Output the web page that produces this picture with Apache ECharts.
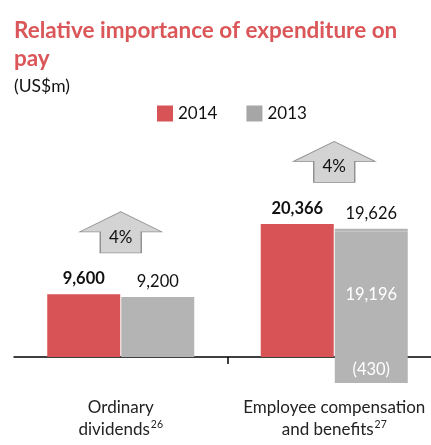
<!DOCTYPE html>
<html>
<head>
<meta charset="utf-8">
<script src="https://cdn.jsdelivr.net/npm/echarts@6/dist/echarts.min.js"></script>
<style>
  html, body { margin: 0; padding: 0; background: #fff; overflow: hidden; }
  /* the axis runs past the right edge of the window, so the canvas is a bit wider */
  #chart { width: 441px; height: 445px; }
</style>
</head>
<body>
<div id="chart"></div>
<script>
// values in US$m
const categories = ["Ordinary\ndividends", "Employee compensation\nand benefits"];
const footnotes = ["26", "27"];
const values2014 = [9600, 20366];
const values2013 = [9200, 19626];
const underlying2013 = [9200, 19196];
const adjustment2013 = [null, -430];

const RED = "#d85356";
const GREY = "#b4b4b4";
const FONT = 'Lato, "Open Sans", sans-serif';

function fmt(v) {
  const s = String(Math.abs(v)).replace(/\B(?=(\d{3})+(?!\d))/g, ",");
  return v < 0 ? "(" + s + ")" : s;
}

// part of the 2013 bar above the underlying figure
const topUp2013 = values2013.map(function (v, i) {
  return adjustment2013[i] == null ? null : v - underlying2013[i];
});

const arrowPath = "path://M42,0 L84,20 L63,20 L63,41 L21,41 L21,20 L0,20 Z";

const chart = echarts.init(document.getElementById("chart"));

const option = {
  animation: false,
  textStyle: { fontFamily: FONT },
  title: {
    text: "Relative importance of expenditure on\npay",
    subtext: "(US$m)",
    left: 9,
    top: 12,
    itemGap: 4,
    textStyle: { color: "#da5659", fontSize: 22.5, fontWeight: "bold", lineHeight: 28, fontFamily: FONT },
    subtextStyle: { color: "#111", fontSize: 17.5, fontFamily: FONT }
  },
  legend: {
    data: [
      { name: "2014" },
      { name: "2013", itemStyle: { color: "#a6a6a6" } }
    ],
    left: 152,
    top: 100,
    icon: "rect",
    itemWidth: 16,
    itemHeight: 16,
    itemGap: 29,
    textStyle: { fontSize: 17, color: "#111", fontFamily: FONT, padding: [0, 0, 0, 0] }
  },
  grid: { left: 14, right: 0, top: 161, bottom: 88 },
  xAxis: [
    {
      type: "category",
      data: categories,
      axisLine: { show: true, lineStyle: { color: "#000", width: 1.5 } },
      axisTick: { show: false },
      axisLabel: {
        interval: 0,
        showMaxLabel: true,
        hideOverlap: false,
        margin: 40,
        color: "#222",
        fontSize: 17,
        lineHeight: 22,
        fontFamily: FONT,
        formatter: function (v, i) {
          return v + "{sup|" + footnotes[i] + "}";
        },
        rich: {
          sup: { fontSize: 10.5, verticalAlign: "top", lineHeight: 22, padding: [0, 0, 3, 1], fontFamily: FONT, color: "#222" }
        }
      }
    },
    {
      // only the tick between the two categories
      type: "value",
      min: 0,
      max: categories.length,
      position: "bottom",
      axisLine: { show: false, onZero: false },
      axisLabel: { show: false },
      splitLine: { show: false },
      axisTick: {
        show: true,
        length: 7,
        customValues: [1],
        lineStyle: { color: "#000", width: 1.5 }
      }
    }
  ],
  yAxis: {
    type: "value",
    min: 0,
    max: 30000,
    show: false,
    splitLine: { show: false }
  },
  series: [
    {
      name: "2014",
      type: "bar",
      stack: "a",
      data: values2014,
      barWidth: 73,
      barGap: "1.4%",
      itemStyle: { color: RED },
      label: {
        show: true,
        position: "top",
        distance: 7,
        color: "#111",
        fontSize: 16.5,
        fontWeight: "bold",
        fontFamily: FONT,
        formatter: function (p) { return fmt(p.value); }
      },
      markPoint: {
        symbol: arrowPath,
        symbolSize: [82, 41],
        // markers on a bar series sit over the bar; move them to the category centre
        symbolOffset: [37, -62],
        itemStyle: { color: "#d3d3d3", borderColor: "#8f8f8f", borderWidth: 1 },
        label: {
          show: true,
          position: "inside",
          offset: [0, 5],
          color: "#111",
          fontSize: 17,
          fontFamily: FONT,
          formatter: function (p) { return p.data.pct + "%"; }
        },
        data: categories.map(function (c, i) {
          return {
            coord: [i, Math.max(values2014[i], values2013[i])],
            pct: Math.round((values2014[i] / values2013[i] - 1) * 100)
          };
        })
      }
    },
    {
      name: "2013",
      type: "bar",
      stack: "b",
      barWidth: 73,
      itemStyle: { color: GREY },
      data: underlying2013.map(function (v, i) {
        const inside = adjustment2013[i] != null;
        return {
          value: v,
          label: {
            show: true,
            position: inside ? "inside" : "top",
            distance: 7,
            color: inside ? "#fff" : "#111",
            fontSize: 16.5,
            fontFamily: FONT,
            formatter: fmt(v)
          }
        };
      })
    },
    {
      name: "2013 total",
      type: "bar",
      stack: "b",
      barWidth: 73,
      itemStyle: { color: GREY },
      data: topUp2013,
      label: {
        show: true,
        position: "top",
        distance: 7,
        color: "#111",
        fontSize: 16.5,
        fontFamily: FONT,
        formatter: function (p) { return fmt(values2013[p.dataIndex]); }
      }
    },
    {
      name: "2013 adjustment",
      type: "bar",
      stack: "b",
      barWidth: 73,
      barMinHeight: 26,
      clip: false,
      itemStyle: { color: GREY },
      data: adjustment2013,
      label: {
        show: true,
        position: "inside",
        color: "#fff",
        fontSize: 16.5,
        fontFamily: FONT,
        formatter: function (p) { return fmt(p.value); }
      }
    }
  ]
};

chart.setOption(option);
</script>
</body>
</html>
